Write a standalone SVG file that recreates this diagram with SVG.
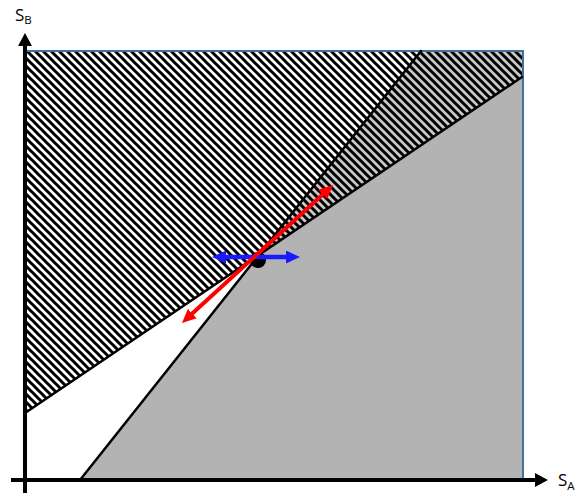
<svg xmlns="http://www.w3.org/2000/svg" width="579" height="496" viewBox="0 0 579 496">
  <style>
    .bound { stroke: #000; stroke-width: 2.5; fill: none; stroke-linecap: round; }
    .axis { stroke: #000; stroke-width: 4; fill: none; }
    .lbl { font-family: "Open Sans", "Liberation Sans", sans-serif; fill: #000; }
  </style>
  <defs>
    <pattern id="hatch" patternUnits="userSpaceOnUse" width="8" height="8">
      <rect width="8" height="8" fill="#fff" fill-opacity="0.3"/>
      <path d="M-2,6 L2,10 M0,0 L8,8 M6,-2 L10,2" stroke="#000" stroke-width="3"/>
    </pattern>
    <marker id="axhead" markerUnits="userSpaceOnUse" markerWidth="13" markerHeight="14" refX="3" refY="7" orient="auto">
      <path d="M0,0 L13,7 L0,14 z" fill="#000"/>
    </marker>
    <marker id="bhead" markerUnits="userSpaceOnUse" markerWidth="14" markerHeight="13" refX="3" refY="6.5" orient="auto-start-reverse">
      <path d="M0,0 L14,6.5 L0,13 z" fill="#1a1aff"/>
    </marker>
    <marker id="rhead" markerUnits="userSpaceOnUse" markerWidth="14" markerHeight="13" refX="3" refY="6.5" orient="auto-start-reverse">
      <path d="M0,0 L14,6.5 L0,13 z" fill="#ff0000"/>
    </marker>
  </defs>

  <g id="regions">
    <polygon id="gray-region" points="80,480 421,51 523,51 523,480" fill="#b3b3b3"/>
    <polygon id="hatched-region" points="25,51 523,51 523,77 25,413" fill="url(#hatch)"/>
  </g>

  <rect id="frame" x="25" y="51" width="498" height="429" fill="none" stroke="#41719C" stroke-width="2"/>

  <g id="boundaries">
    <line class="bound" x1="80" y1="480" x2="421" y2="51"/>
    <line class="bound" x1="25" y1="413" x2="522" y2="77"/>
  </g>

  <g id="point">
    <circle cx="258" cy="260" r="8" fill="#000"/>
  </g>

  <g id="connectors">
    <line x1="223" y1="257" x2="289" y2="257" stroke="#1a1aff" stroke-width="4.5" marker-start="url(#bhead)" marker-end="url(#bhead)"/>
    <line x1="190.1" y1="315.6" x2="324.9" y2="192.4" stroke="#ff0000" stroke-width="4" marker-start="url(#rhead)" marker-end="url(#rhead)"/>
  </g>

  <g id="axes">
    <line class="axis" x1="25" y1="493" x2="25" y2="43" marker-end="url(#axhead)"/>
    <line class="axis" x1="11" y1="480" x2="538" y2="480" marker-end="url(#axhead)"/>
  </g>

  <g id="labels">
    <text class="lbl" x="15" y="21" font-size="17">S<tspan font-size="11.5" dy="3">B</tspan></text>
    <text class="lbl" x="558" y="486" font-size="17">S<tspan font-size="11.5" dy="4">A</tspan></text>
  </g>
</svg>
